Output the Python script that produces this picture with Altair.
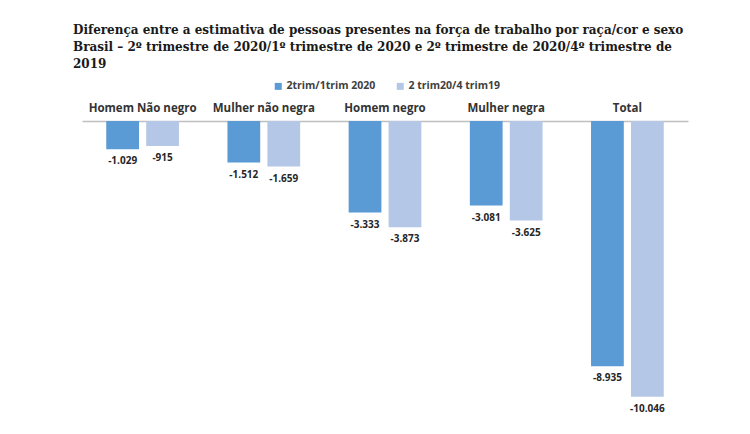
import altair as alt
import pandas as pd

categories = ["Homem Não negro", "Mulher não negra", "Homem negro", "Mulher negra", "Total"]
series_names = ["2trim/1trim 2020", "2 trim20/4 trim19"]
values_q1 = [-1029, -1512, -3333, -3081, -8935]
values_q4 = [-915, -1659, -3873, -3625, -10046]
colors = ["#5b9bd5", "#b4c7e7"]
title_lines = [
    "Diferença entre a estimativa de pessoas presentes na força de trabalho por raça/cor e sexo",
    "Brasil – 2º trimestre de 2020/1º trimestre de 2020 e 2º trimestre de 2020/4º trimestre de",
    "2019",
]

rows = []
for c, a, b in zip(categories, values_q1, values_q4):
    rows.append({"cat": c, "serie": series_names[0], "v": a})
    rows.append({"cat": c, "serie": series_names[1], "v": b})
df = pd.DataFrame(rows)

base = alt.Chart(df).transform_calculate(
    label="'-' + replace(format(abs(datum.v), ','), ',', '.')"
)

x = alt.X(
    "cat:N",
    sort=categories,
    scale=alt.Scale(paddingInner=0.4, paddingOuter=0.2),
    axis=alt.Axis(
        orient="top", title=None, labelAngle=0, domainColor="#bfbfbf",
        domainWidth=1.5, ticks=False, labelPadding=8, labelFont="Open Sans",
        labelFontWeight="bold", labelFontSize=11.5, labelColor="#333333",
    ),
)
xo = alt.XOffset("serie:N", sort=series_names,
                 scale=alt.Scale(paddingInner=0.18, paddingOuter=0))
y = alt.Y("v:Q", scale=alt.Scale(domain=[-11000, 0], nice=False), axis=None)

bars = base.mark_bar().encode(
    x=x, xOffset=xo, y=y,
    color=alt.Color(
        "serie:N", sort=series_names,
        scale=alt.Scale(domain=series_names, range=colors),
        legend=alt.Legend(
            title=None, orient="none", legendX=191, legendY=-40,
            direction="horizontal", symbolType="square", symbolSize=49,
            labelFont="Open Sans", labelFontWeight="bold", labelFontSize=10.5,
            labelColor="#404040", columnPadding=19, labelOffset=3, padding=0,
            symbolStrokeWidth=0,
        ),
    ),
)

labels = base.mark_text(
    baseline="middle", dy=12, font="Open Sans", fontWeight="bold",
    fontSize=10, color="#262626",
).encode(x=x, xOffset=xo, y=y, text="label:N")

chart = alt.layer(bars, labels).properties(
    width=606, height=302,
    autosize=alt.AutoSizeParams(type="none"),
    padding={"left": 74, "top": 113, "right": 50, "bottom": 5},
    title=alt.TitleParams(
        text=title_lines, anchor="start", font="DejaVu Serif", fontSize=12,
        fontWeight="bold", color="#1a1a1a", lineHeight=17, dx=-9, offset=10,
    ),
).configure_view(stroke=None)

chart.save("out.html", embed_options={"renderer": "svg", "actions": False})
